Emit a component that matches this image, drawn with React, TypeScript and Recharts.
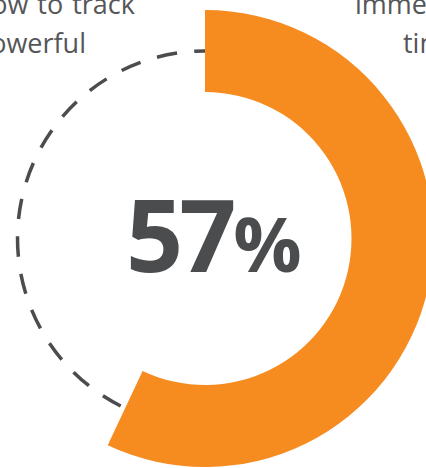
import React from 'react';
import { PieChart, Pie, Cell } from 'recharts';

const categories = ['Share', 'Remainder'];
const values = [57, 43];
const centerLabel = '57';
const leftLines = ['how to track', 'powerful'];
const rightLines = ['immediately', 'time'];

const ORANGE = '#F68B1F';
const GRAY = '#4b4c4e';

const data = categories.map((name, i) => ({ name, value: values[i] }));

const RAD = Math.PI / 180;
const polar = (cx: number, cy: number, r: number, angle: number) => ({
  x: cx + r * Math.cos(-angle * RAD),
  y: cy + r * Math.sin(-angle * RAD),
});

const renderLabel = (props: any) => {
  const { cx, cy, innerRadius, outerRadius, startAngle, endAngle, index } = props;
  if (index === 0) {
    return (
      <text
        x={cx - 79}
        y={cy + 33.5}
        fill={GRAY}
        fontFamily="'Open Sans', sans-serif"
        fontWeight={700}
        textAnchor="start"
      >
        <tspan fontSize={100} letterSpacing={-4}>{centerLabel}</tspan>
        <tspan fontSize={76} dx={1}>%</tspan>
      </text>
    );
  }
  const r = (innerRadius + outerRadius) / 2;
  const s = polar(cx, cy, r, startAngle);
  const e = polar(cx, cy, r, endAngle);
  const large = Math.abs(startAngle - endAngle) > 180 ? 1 : 0;
  const d = `M ${s.x} ${s.y} A ${r} ${r} 0 ${large} 1 ${e.x} ${e.y}`;
  return (
    <path
      d={d}
      fill="none"
      stroke={GRAY}
      strokeWidth={3.5}
      strokeDasharray="20.5 17.24"
      strokeDashoffset={32.74}
    />
  );
};

export default function App() {
  return (
    <div style={{ position: 'absolute', left: 0, top: 0, width: 426, height: 468, overflow: 'hidden', background: '#fff' }}>
      <PieChart width={426} height={468} margin={{ top: 0, right: 0, bottom: 0, left: 0 }}>
        <Pie
          data={data}
          dataKey="value"
          nameKey="name"
          cx={205}
          cy={238.5}
          innerRadius={146.5}
          outerRadius={228.5}
          startAngle={90}
          endAngle={-270}
          stroke="none"
          label={renderLabel}
          labelLine={false}
          isAnimationActive={false}
        >
          <Cell fill={ORANGE} />
          <Cell fill="none" />
        </Pie>
      </PieChart>
      <svg width={426} height={468} style={{ position: 'absolute', left: 0, top: 0, pointerEvents: 'none' }}>
        <g fontFamily="'Open Sans', sans-serif" fontSize={27} fill="#555658">
          <text x={135} y={14} textAnchor="end" wordSpacing={2}>{leftLines[0]}</text>
          <text x={86} y={53} textAnchor="end">{leftLines[1]}</text>
          <text x={355} y={14} textAnchor="start">{rightLines[0]}</text>
          <text x={403} y={53} textAnchor="start">{rightLines[1]}</text>
        </g>
      </svg>
    </div>
  );
}
